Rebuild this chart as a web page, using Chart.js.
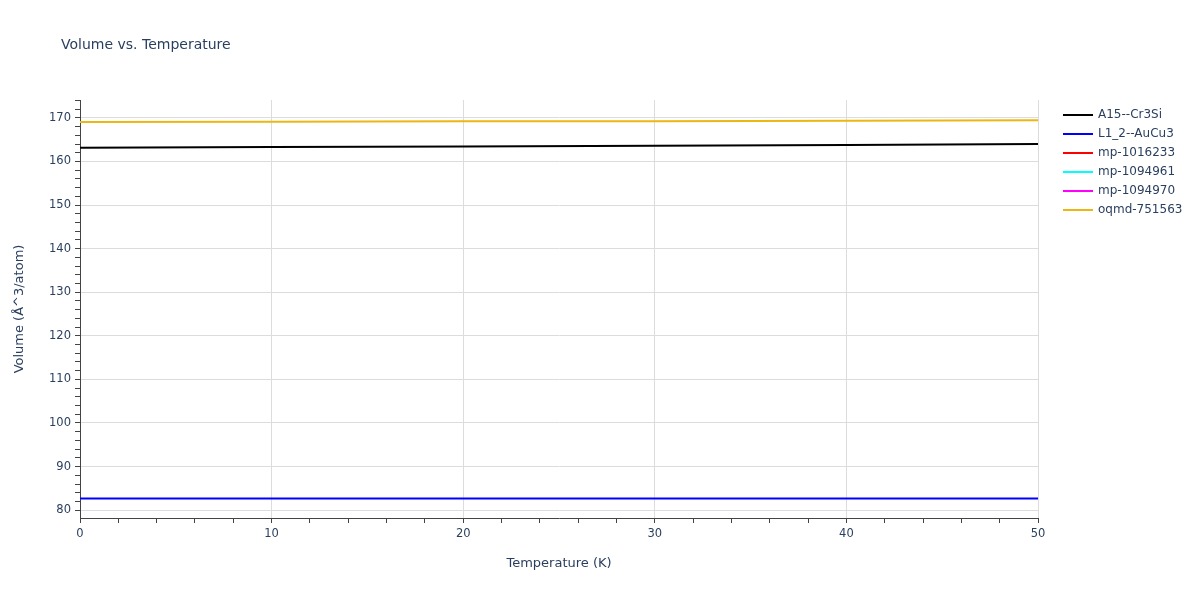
<!DOCTYPE html>
<html>
<head>
<meta charset="utf-8">
<script src="https://cdn.jsdelivr.net/npm/chart.js@4.4.0/dist/chart.umd.min.js"></script>
<style>
  html, body { margin: 0; padding: 0; background: #fff; }
  #wrap { width: 1200px; height: 600px; position: relative; }
</style>
</head>
<body>
<div id="wrap"><canvas id="volumeChart"></canvas></div>
<script>
// temperatures (K)
const temps = [0, 10, 20, 30, 40, 50];

// volumes (A^3/atom) for each structure
const a15Cr3Si = [163.15, 163.3, 163.45, 163.6, 163.8, 164.0];
const l12AuCu3 = [82.7, 82.7, 82.7, 82.7, 82.7, 82.7];
// these three are listed in the legend but no line of theirs shows in the plot
const mp1016233 = [];
const mp1094961 = [];
const mp1094970 = [];
const oqmd751563 = [169.05, 169.1, 169.2, 169.25, 169.35, 169.45];

const seriesNames = ["A15--Cr3Si", "L1_2--AuCu3", "mp-1016233", "mp-1094961", "mp-1094970", "oqmd-751563"];
const seriesValues = [a15Cr3Si, l12AuCu3, mp1016233, mp1094961, mp1094970, oqmd751563];
const seriesColors = ["#000000", "#0000ff", "#ff0000", "#00ffff", "#ff00ff", "#ecb613"];

const textColor = "#2a3f5f";
const fontFamily = '"DejaVu Sans", Verdana, sans-serif';

const datasets = seriesNames.map((name, i) => ({
  label: name,
  data: seriesValues[i].map((v, j) => ({ x: temps[j], y: v })),
  borderColor: seriesColors[i],
  backgroundColor: seriesColors[i],
  borderWidth: 2,
  pointRadius: 0,
  tension: 0,
}));

// title and legend are drawn by hand so they sit where plotly puts them
const decorPlugin = {
  id: "decor",
  afterDraw(chart) {
    const c = chart.ctx;
    c.save();
    c.font = '14px ' + fontFamily;
    c.fillStyle = textColor;
    c.textBaseline = "middle";
    c.fillText("Volume vs. Temperature", 61, 45);

    c.font = '12px ' + fontFamily;
    chart.data.datasets.forEach((ds, i) => {
      const y = 115 + 19 * i;
      c.strokeStyle = ds.borderColor;
      c.lineWidth = 2;
      c.beginPath();
      c.moveTo(1063, y);
      c.lineTo(1093, y);
      c.stroke();
      c.fillStyle = textColor;
      c.fillText(ds.label, 1098, y);
    });
    c.restore();
  }
};

function minorTicks(from, to, step) {
  const out = [];
  for (let v = from; v <= to + 1e-9; v += step) out.push({ value: v });
  return out;
}

const gridColor = "#dcdcdc";

const config = {
  type: "line",
  data: { datasets: datasets },
  options: {
    responsive: true,
    maintainAspectRatio: false,
    animation: false,
    layout: { padding: { left: 8, top: 100, right: 162, bottom: 0 } },
    plugins: {
      legend: { display: false },
      tooltip: { enabled: false },
      title: { display: false }
    },
    scales: {
      x: {
        type: "linear",
        min: 0,
        max: 50,
        afterBuildTicks: (scale) => { scale.ticks = minorTicks(0, 50, 2); },
        afterFit: (scale) => { scale.height = 82; },
        ticks: {
          color: textColor,
          font: { family: fontFamily, size: 11.5 },
          autoSkip: false,
          maxRotation: 0,
          padding: 4,
          callback: (v) => (v % 10 === 0 ? String(v) : "")
        },
        grid: {
          color: (ctx) => (ctx.tick && ctx.tick.value % 10 === 0 ? gridColor : "rgba(0,0,0,0)"),
          tickColor: "#444",
          tickLength: 5,
          lineWidth: 1
        },
        border: { color: "#444", width: 1 },
        title: {
          display: true,
          text: "Temperature (K)",
          color: textColor,
          font: { family: fontFamily, size: 13 },
          padding: { top: 0, bottom: 29 }
        }
      },
      y: {
        type: "linear",
        min: 78.2,
        max: 174.1,
        afterBuildTicks: (scale) => { scale.ticks = minorTicks(80, 174, 2); },
        afterFit: (scale) => { scale.width = 72; },
        ticks: {
          color: textColor,
          font: { family: fontFamily, size: 11.5 },
          autoSkip: false,
          padding: 4,
          callback: (v) => (Math.round(v) % 10 === 0 ? String(Math.round(v)) : "")
        },
        grid: {
          color: (ctx) => (ctx.tick && Math.round(ctx.tick.value) % 10 === 0 ? gridColor : "rgba(0,0,0,0)"),
          tickColor: "#444",
          tickLength: 5,
          lineWidth: 1
        },
        border: { color: "#444", width: 1 },
        title: {
          display: true,
          text: "Volume (Å^3/atom)",
          color: textColor,
          font: { family: fontFamily, size: 13 },
          padding: { top: 4, bottom: 0 }
        }
      }
    }
  },
  plugins: [decorPlugin]
};

const ctx = document.getElementById("volumeChart").getContext("2d");
const volumeChart = new Chart(ctx, config);
</script>
</body>
</html>
